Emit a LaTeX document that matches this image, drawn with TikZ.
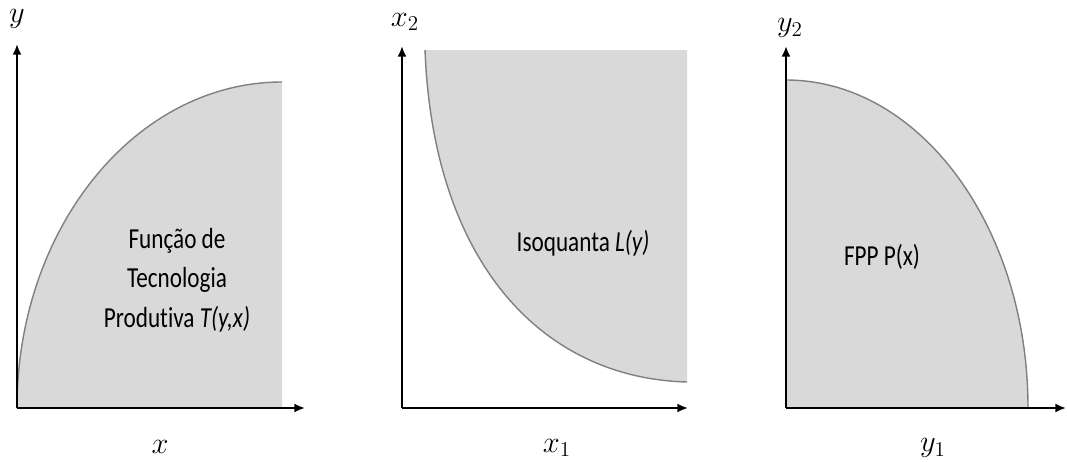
\documentclass[tikz,border=0pt]{standalone}
\usepackage[no-math]{fontspec}
\setmainfont[FakeStretch=0.8,Ligatures=NoCommon]{Carlito}
\usetikzlibrary{arrows.meta}
\begin{document}
\begin{tikzpicture}[x=0.02cm,y=0.02cm,
    region/.style={fill=gray!30},
    frontier/.style={draw=black!50,line width=0.8pt},
    axis/.style={line width=1.1pt,-{Latex[length=6pt,width=5pt]}},
    axlabel/.style={font=\fontsize{18}{22}\selectfont},
    inlabel/.style={font=\fontsize{16.5}{22.5}\selectfont,align=center}]
  \useasboundingbox (0,0) rectangle (1067,461);
  % technology set
  \coordinate (O1) at (17,53);
  \fill[region] (O1) arc[start angle=180,end angle=90,x radius=265,y radius=326]
    -- (282,53) -- cycle;
  \draw[frontier] (O1) arc[start angle=180,end angle=90,x radius=265,y radius=326];
  \coordinate (Y1) at (17,417);
  \coordinate (X1) at (305,53);
  \draw[axis] (O1) -- (Y1);
  \draw[axis] (O1) -- (X1);
  \node[axlabel] (ly) at (17,442) {$y$};
  \node[axlabel] (lx) at (160,14) {$x$};
  \node[inlabel] (tech) at (177,181) {Função de\\Tecnologia\\Produtiva \textit{T(y,x)}};
  % input set
  \coordinate (O2) at (402,53);
  \fill[region] (425,411) .. controls (433,201) and (540,83) .. (687,79)
    -- (687,411) -- cycle;
  \draw[frontier] (425,411) .. controls (433,201) and (540,83) .. (687,79);
  \coordinate (Y2) at (402,415);
  \coordinate (X2) at (688,53);
  \draw[axis] (O2) -- (Y2);
  \draw[axis] (O2) -- (X2);
  \node[axlabel] (lxb) at (405,439) {$x_2$};
  \node[axlabel] (lxa) at (557,13) {$x_1$};
  \node[inlabel] (iso) at (583,218) {Isoquanta \textit{L(y)}};
  % output set
  \coordinate (O3) at (786,53);
  \fill[region] (O3) -- (786,381)
    arc[start angle=90,end angle=0,x radius=242,y radius=328] -- cycle;
  \draw[frontier] (786,381) arc[start angle=90,end angle=0,x radius=242,y radius=328];
  \coordinate (Y3) at (786,415);
  \coordinate (X3) at (1066,53);
  \draw[axis] (O3) -- (Y3);
  \draw[axis] (O3) -- (X3);
  \node[axlabel] (lyb) at (790,433) {$y_2$};
  \node[axlabel] (lya) at (933,13) {$y_1$};
  \node[inlabel] (fpp) at (882,204) {FPP P(x)};
\end{tikzpicture}
\end{document}
